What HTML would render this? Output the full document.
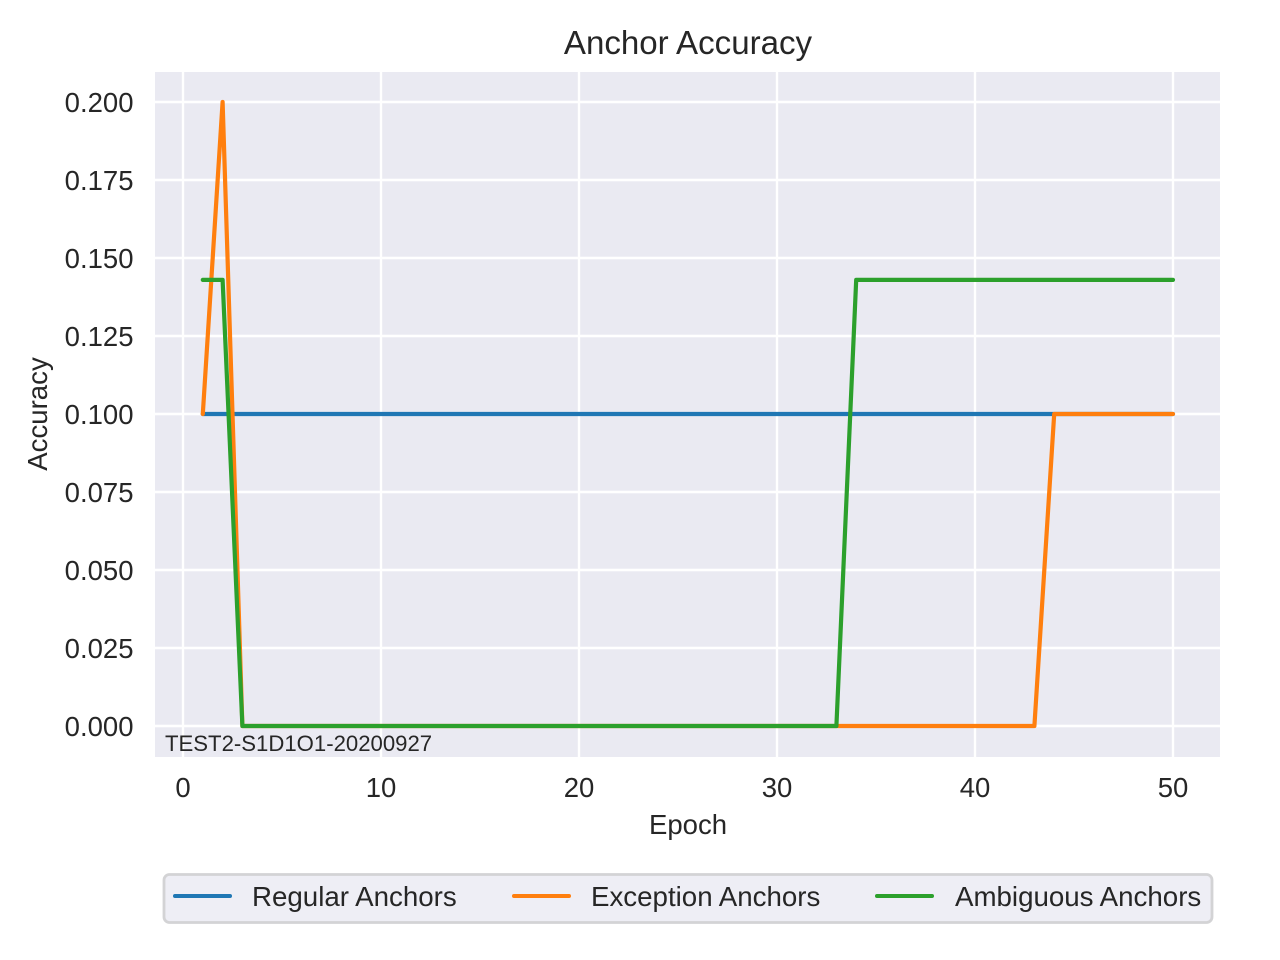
<!DOCTYPE html>
<html>
<head>
<meta charset="utf-8">
<style>
html,body{margin:0;padding:0;background:#fff;width:1280px;height:960px;overflow:hidden}
svg{display:block}
text{font-family:"Liberation Sans",Arial,sans-serif;fill:#262626}
</style>
</head>
<body>
<svg id="chart" xmlns="http://www.w3.org/2000/svg" width="1280" height="960" viewBox="0 0 1280 960">
<rect x="155" y="72" width="1065" height="685" fill="#eaeaf2"/>
<g id="grid"></g>
<g id="series"></g>
<text x="165" y="751" font-size="22.15">TEST2-S1D1O1-20200927</text>
<g id="ticks"></g>
<text x="688" y="54" font-size="33.1" text-anchor="middle">Anchor Accuracy</text>
<text x="688" y="834" font-size="27.7" text-anchor="middle" textLength="78" lengthAdjust="spacingAndGlyphs">Epoch</text>
<text transform="translate(47,414) rotate(-90)" font-size="27.6" text-anchor="middle">Accuracy</text>
<g>
<rect x="164" y="874.5" width="1048" height="48" rx="5.5" ry="5.5" fill="#eeeef5" stroke="#d3d3d5" stroke-width="2.8"/>
<line x1="175" y1="896" x2="230" y2="896" stroke="#1f77b4" stroke-width="4" stroke-linecap="round"/>
<text x="252" y="906" font-size="27.7">Regular Anchors</text>
<line x1="514" y1="896" x2="569" y2="896" stroke="#ff7f0e" stroke-width="4" stroke-linecap="round"/>
<text x="591" y="906" font-size="27.7">Exception Anchors</text>
<line x1="877" y1="896" x2="932" y2="896" stroke="#2ca02c" stroke-width="4" stroke-linecap="round"/>
<text x="955" y="906" font-size="27.7">Ambiguous Anchors</text>
</g>
</svg>
<script>
const epochs = [1,2,3,4,5,6,7,8,9,10,11,12,13,14,15,16,17,18,19,20,21,22,23,24,25,26,27,28,29,30,31,32,33,34,35,36,37,38,39,40,41,42,43,44,45,46,47,48,49,50];
const regularAnchors = [0.1,0.1,0.1,0.1,0.1,0.1,0.1,0.1,0.1,0.1,0.1,0.1,0.1,0.1,0.1,0.1,0.1,0.1,0.1,0.1,0.1,0.1,0.1,0.1,0.1,0.1,0.1,0.1,0.1,0.1,0.1,0.1,0.1,0.1,0.1,0.1,0.1,0.1,0.1,0.1,0.1,0.1,0.1,0.1,0.1,0.1,0.1,0.1,0.1,0.1];
const exceptionAnchors = [0.1,0.2,0,0,0,0,0,0,0,0,0,0,0,0,0,0,0,0,0,0,0,0,0,0,0,0,0,0,0,0,0,0,0,0,0,0,0,0,0,0,0,0,0,0.1,0.1,0.1,0.1,0.1,0.1,0.1];
const ambiguousAnchors = [0.143,0.143,0,0,0,0,0,0,0,0,0,0,0,0,0,0,0,0,0,0,0,0,0,0,0,0,0,0,0,0,0,0,0,0.143,0.143,0.143,0.143,0.143,0.143,0.143,0.143,0.143,0.143,0.143,0.143,0.143,0.143,0.143,0.143,0.143];
const xTicks = [0,10,20,30,40,50];
const yTicks = [0,0.025,0.05,0.075,0.1,0.125,0.15,0.175,0.2];

const NS = 'http://www.w3.org/2000/svg';
function xScale(v){ return 183 + v * 19.8; }
function yScale(v){ return 726 - v * 3120; }

const grid = document.getElementById('grid');
const ticks = document.getElementById('ticks');

xTicks.forEach(function(t){
  const g = document.createElementNS(NS,'line');
  
  
  g.setAttribute('x1', xScale(t));
  g.setAttribute('x2', xScale(t));
  g.setAttribute('y1', 72);
  g.setAttribute('y2', 757);
  g.setAttribute('stroke', '#ffffff');
  g.setAttribute('stroke-width', 2.4);
  grid.appendChild(g);
  const l = document.createElementNS(NS,'text');
  
  
  l.setAttribute('x', xScale(t));
  l.setAttribute('y', 797);
  l.setAttribute('font-size', 27.5);
  l.setAttribute('text-anchor', 'middle');
  l.textContent = String(t);
  ticks.appendChild(l);
});

yTicks.forEach(function(t){
  const g = document.createElementNS(NS,'line');
  
  
  g.setAttribute('x1', 155);
  g.setAttribute('x2', 1220);
  g.setAttribute('y1', yScale(t));
  g.setAttribute('y2', yScale(t));
  g.setAttribute('stroke', '#ffffff');
  g.setAttribute('stroke-width', 2.4);
  grid.appendChild(g);
  const l = document.createElementNS(NS,'text');
  
  
  l.setAttribute('x', 133.5);
  l.setAttribute('y', yScale(t) + 10);
  l.setAttribute('font-size', 27.5);
  l.setAttribute('text-anchor', 'end');
  l.textContent = t.toFixed(3);
  ticks.appendChild(l);
});

const series = document.getElementById('series');
function drawLine(values, color, name){
  const p = document.createElementNS(NS,'polyline');
  
  
  p.setAttribute('points', values.map(function(v,i){ return xScale(epochs[i]) + ',' + yScale(v); }).join(' '));
  p.setAttribute('fill', 'none');
  p.setAttribute('stroke', color);
  p.setAttribute('stroke-width', 4.2);
  p.setAttribute('stroke-linecap', 'round');
  p.setAttribute('stroke-linejoin', 'round');
  series.appendChild(p);
}
drawLine(regularAnchors, '#1f77b4', 'regular-anchors-line');
drawLine(exceptionAnchors, '#ff7f0e', 'exception-anchors-line');
drawLine(ambiguousAnchors, '#2ca02c', 'ambiguous-anchors-line');
</script>
</body>
</html>
